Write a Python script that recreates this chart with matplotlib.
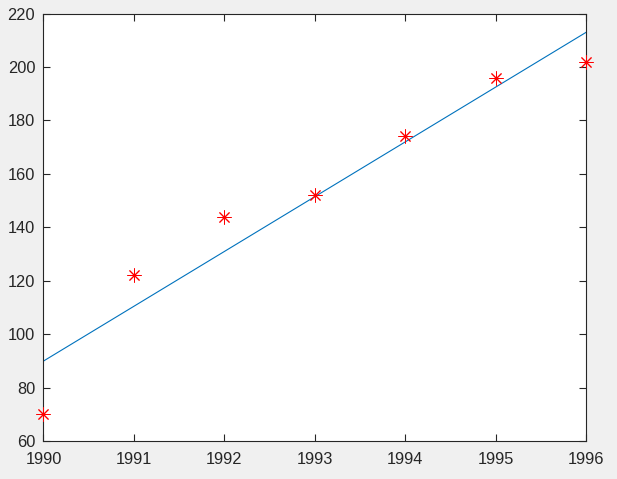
import numpy as np
import matplotlib.pyplot as plt

years = [1990, 1991, 1992, 1993, 1994, 1995, 1996]
values = [70, 122, 144, 152, 174, 196, 202]

# least-squares line through the measured points
coef = np.polyfit(years, values, 1)
fit = np.polyval(coef, years)

plt.rcParams['font.family'] = ['Liberation Sans', 'DejaVu Sans']

fig = plt.figure(figsize=(6.17, 4.79), dpi=100, facecolor='#f0f0f0')
ax = fig.add_axes([0.0705, 0.0793, 0.8792, 0.8925])

ax.plot(years, fit, color='#0072BD', linewidth=0.8)
ax.plot(years, values, linestyle='none', marker=(8, 2, 0), markersize=10,
        markeredgewidth=0.7, color='red', clip_on=False, zorder=3)

ax.set_xlim(1990, 1996)
ax.set_ylim(60, 220)
ax.set_xticks(years)
ax.set_yticks(range(60, 221, 20))

for s in ax.spines.values():
    s.set_color('#262626')
    s.set_linewidth(0.8)
ax.tick_params(direction='in', length=5, width=0.8, top=True, right=True,
               colors='#262626', labelsize=11.8, labelcolor='#262626')
ax.tick_params(axis='x', pad=8)
ax.tick_params(axis='y', pad=6)

plt.savefig('out.png', dpi=100, facecolor=fig.get_facecolor())
